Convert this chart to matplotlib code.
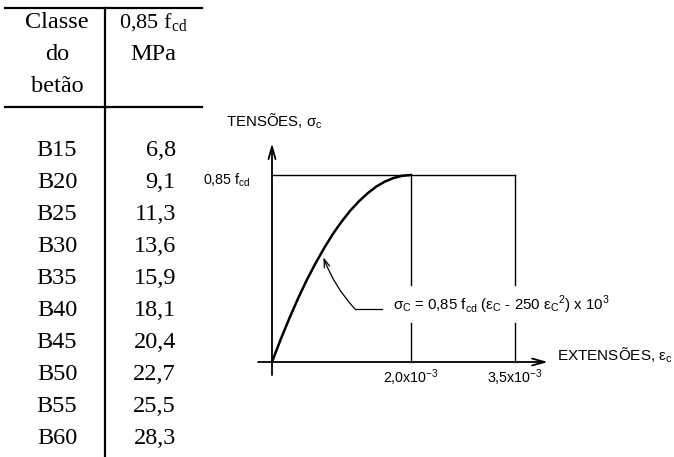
import matplotlib
matplotlib.use('Agg')
import matplotlib.pyplot as plt

# ── Data ──────────────────────────────────────────────────────
CLASSES = ['B15', 'B20', 'B25', 'B30', 'B35', 'B40', 'B45', 'B50', 'B55', 'B60']
FCD085  = ['6,8', '9,1', '11,3', '13,6', '15,9', '18,1', '20,4', '22,7', '25,5', '28,3']

# parabola-rectangle diagram (strain in 1e-3, stress / 0.85 fcd)
EPS_CURVE = [0, 0.125, 0.25, 0.375, 0.5, 0.625, 0.75, 0.875, 1.0,
             1.125, 1.25, 1.375, 1.5, 1.625, 1.75, 1.875, 2.0]
SIG_CURVE = [0, 0.121, 0.234, 0.340, 0.438, 0.527, 0.609, 0.684, 0.750,
             0.809, 0.859, 0.902, 0.938, 0.965, 0.984, 0.996, 1.0]
EPS_C2  = 2.0
EPS_CU  = 3.5
TICK_LABELS = ['2,0x10$^{\\mathregular{-3}}$', '3,5x10$^{\\mathregular{-3}}$']

W, H = 674, 457
SERIF = 'Liberation Serif'
SANS  = 'Liberation Sans'

fig = plt.figure(figsize=(W / 100, H / 100), dpi=100)
fig.patch.set_facecolor('white')

# ── Table (pixel coords) ──────────────────────────────────────
tab = fig.add_axes([0, 0, 1, 1])
tab.set_xlim(0, W); tab.set_ylim(H, 0); tab.axis('off')

tab.plot([5, 202], [8, 8], color='black', lw=1.6)
tab.plot([5, 202], [107, 107], color='black', lw=1.6)
tab.plot([105, 105], [8, H], color='black', lw=1.6)

fs_t = 17.5
for txt, y in zip(['Classe', 'do', 'betão'], [22, 55, 87]):
    tab.text(57, y, txt, family=SERIF, fontsize=fs_t, ha='center', va='center')
tab.text(153, 23, '0,85 f$_{\\mathregular{cd}}$', family=SERIF, fontsize=16,
         ha='center', va='center')
tab.text(153, 55, 'MPa', family=SERIF, fontsize=fs_t, ha='center', va='center')

row_y0, row_dy = 151, 32
for i, (c, v) in enumerate(zip(CLASSES, FCD085)):
    y = row_y0 + i * row_dy
    tab.text(57, y, c, family=SERIF, fontsize=fs_t, ha='center', va='center')
    tab.text(176, y, v, family=SERIF, fontsize=fs_t, ha='right', va='center')

# ── Diagram (data coords) ─────────────────────────────────────
ox, oy, sx, sy = 272, 362, 69.5, 187
ax = fig.add_axes([0, 0, 1, 1], facecolor='none')
ax.set_xlim(-ox / sx, (W - ox) / sx)
ax.set_ylim((oy - H) / sy, oy / sy)
ax.axis('off')

arw = dict(arrowstyle='->,head_length=0.9,head_width=0.25', color='black', lw=1.3,
           shrinkA=0, shrinkB=0)
ax.annotate('', xy=(3.97, 0), xytext=(-0.2, 0), arrowprops=arw)
ax.annotate('', xy=(0, 1.17), xytext=(0, -0.07), arrowprops=arw)

ax.plot([0, EPS_CU], [1, 1], color='black', lw=1.0)
gap_lo, gap_hi = 0.21, 0.41
for xv in (EPS_C2, EPS_CU):
    ax.plot([xv, xv], [0, gap_lo], color='black', lw=1.0)
    ax.plot([xv, xv], [gap_hi, 1], color='black', lw=1.0)

ax.plot(EPS_CURVE, SIG_CURVE, color='black', lw=1.8)

# leader to curve
ax.annotate('', xy=(0.74, 0.56), xytext=(1.19, 0.285),
            arrowprops=dict(arrowstyle='->,head_length=0.6,head_width=0.2',
                            color='black', lw=0.9, shrinkA=0, shrinkB=0,
                            connectionstyle='arc3,rad=-0.1'))
ax.plot([1.19, 1.58], [0.285, 0.285], color='black', lw=0.9)

ax.text(1.74, 0.305,
        '$\\mathregular{σ_C}$ = 0,85 f$_{\\mathregular{cd}}$ ($\\mathregular{ε_C}$ - 250 '
        '$\\mathregular{ε_C}$$^{\\mathregular{2}}$) x 10$^{\\mathregular{3}}$',
        family=SANS, fontsize=10.8, ha='left', va='center')

ax.text(-0.66, (oy - 121) / sy, 'TENSÕES, $\\mathregular{σ_c}$', family=SANS,
        fontsize=10.8, ha='left', va='center')
ax.text(-0.3, 0.97, '0,85 f$_{\\mathregular{cd}}$', family=SANS, fontsize=10.3,
        ha='right', va='center')
ax.text(4.1, 0.035, 'EXTENSÕES, $\\mathregular{ε_c}$', family=SANS, fontsize=11,
        ha='left', va='center')
for xv, lab in zip([EPS_C2, EPS_CU], TICK_LABELS):
    ax.text(xv, -0.085, lab, family=SANS, fontsize=10.3, ha='center', va='center')

fig.savefig('out.png', dpi=100)
